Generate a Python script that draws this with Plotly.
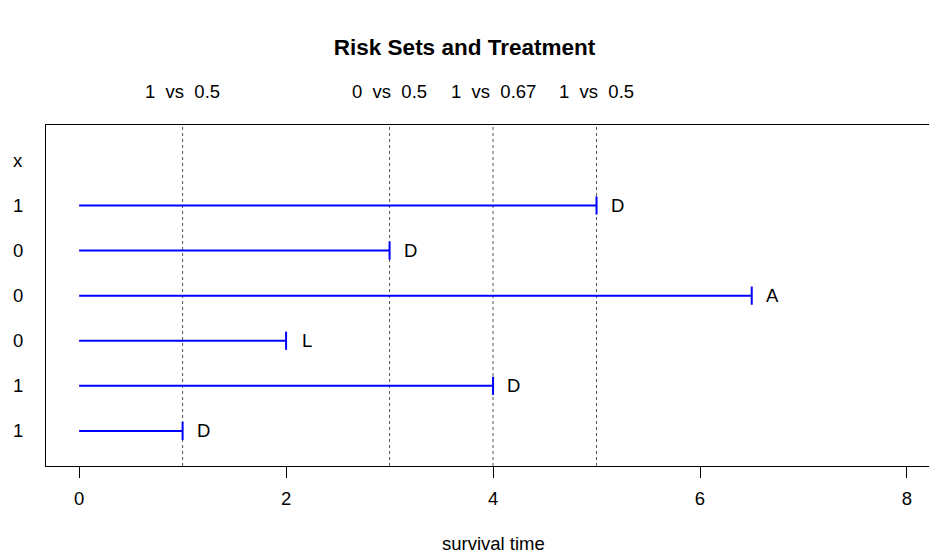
import plotly.graph_objects as go

# Data (top to bottom)
rows = [6, 5, 4, 3, 2, 1]
treat = [1, 0, 0, 0, 1, 1]
times = [5, 3, 6.5, 2, 4, 1]
status = ["D", "D", "A", "L", "D", "D"]

# Risk-set comparisons at event times
event_times = [1, 3, 4, 5]
event_labels = ["1  vs  0.5", "0  vs  0.5", "1  vs  0.67", "1  vs  0.5"]

xticks = [0, 2, 4, 6, 8]

FONT = "Liberation Sans, Arial, Helvetica, sans-serif"
FS = 18.5
BLUE = "#0000FF"

fig = go.Figure()

for r, t in zip(rows, times):
    fig.add_trace(go.Scatter(
        x=[0, t], y=[r, r], mode="lines",
        line=dict(color=BLUE, width=2), showlegend=False, hoverinfo="skip"))

fig.add_trace(go.Scatter(
    x=times, y=rows, mode="markers",
    marker=dict(symbol="line-ns", size=13, line=dict(color=BLUE, width=2), color=BLUE),
    showlegend=False, hoverinfo="skip"))

for et in event_times:
    fig.add_shape(type="line", xref="x", yref="paper", x0=et, x1=et, y0=0, y1=1,
                  line=dict(color="#555555", width=1, dash="dot"), layer="below")

annotations = []
for r, t, s in zip(rows, times, status):
    annotations.append(dict(x=t + 0.2, y=r, xref="x", yref="y", text=s,
                            showarrow=False, xanchor="center", yanchor="middle",
                            font=dict(family=FONT, size=FS, color="black")))

for et, lab in zip(event_times, event_labels):
    annotations.append(dict(x=et, y=1, xref="x", yref="paper", yshift=33.5,
                            text=lab.replace(" ", "\u00a0"), showarrow=False,
                            xanchor="center", yanchor="middle",
                            font=dict(family=FONT, size=FS, color="black")))

annotations.append(dict(x=0, y=7, xref="paper", yref="y", xshift=-28.5, text="x",
                        showarrow=False, xanchor="center", yanchor="middle",
                        font=dict(family=FONT, size=FS, color="black")))
for r, v in zip(rows, treat):
    annotations.append(dict(x=0, y=r, xref="paper", yref="y", xshift=-28.5, text=str(v),
                            showarrow=False, xanchor="center", yanchor="middle",
                            font=dict(family=FONT, size=FS, color="black")))

annotations.append(dict(x=4, y=0, xref="x", yref="paper", yshift=-77, text="survival time",
                        showarrow=False, xanchor="center", yanchor="middle",
                        font=dict(family=FONT, size=FS, color="black")))

fig.update_layout(
    width=929, height=559,
    margin=dict(l=46, r=0, t=125, b=93),
    paper_bgcolor="white", plot_bgcolor="white",
    title=dict(text="<b>Risk Sets and Treatment</b>", x=0.5, xref="container",
               y=1 - 47 / 559, yref="container", xanchor="center", yanchor="middle",
               font=dict(family=FONT, size=22.5, color="black")),
    xaxis=dict(range=[-0.32, 8.213], tickvals=xticks, ticktext=[str(v) for v in xticks],
               showgrid=False, zeroline=False, showline=True, mirror=True,
               linecolor="black", linewidth=1, ticks="outside", ticklen=11,
               tickcolor="black", tickwidth=1, ticklabelstandoff=5,
               tickfont=dict(family=FONT, size=FS, color="black")),
    yaxis=dict(range=[0.222, 7.784], showgrid=False, zeroline=False, showline=True,
               linecolor="black", linewidth=1, showticklabels=False, ticks=""),
    annotations=annotations,
    showlegend=False,
)

fig.write_html("out.html")
